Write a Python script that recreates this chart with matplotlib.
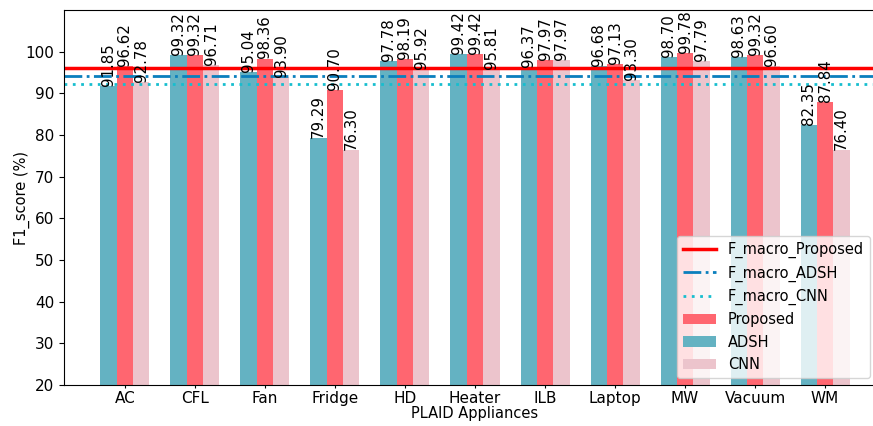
import matplotlib
matplotlib.use('Agg')
import matplotlib.pyplot as plt
import numpy as np

appliances = ['AC', 'CFL', 'Fan', 'Fridge', 'HD', 'Heater', 'ILB', 'Laptop', 'MW', 'Vacuum', 'WM']
proposed = [96.62, 99.32, 98.36, 90.70, 98.19, 99.42, 97.97, 97.13, 99.78, 99.32, 87.84]
adsh = [91.85, 99.32, 95.04, 79.29, 97.78, 99.42, 96.37, 96.68, 98.70, 98.63, 82.35]
cnn = [92.78, 96.71, 93.90, 76.30, 95.92, 95.81, 97.97, 93.30, 97.79, 96.60, 76.40]
f_macro_proposed = 96.2
f_macro_adsh = 94.13
f_macro_cnn = 92.13

fig = plt.figure(figsize=(8.73, 4.26), dpi=100)
ax = fig.add_axes([64/873, 1-385/426, 822/873, 375/426])

x = np.arange(len(appliances))
w = 0.7/3
fs = 11
b_adsh = ax.bar(x-w, adsh, w, color='#64b2c2', label='ADSH')
b_prop = ax.bar(x, proposed, w, color='#ff6670', label='Proposed')
b_cnn = ax.bar(x+w, cnn, w, color='#ecc4cc', label='CNN')

for bars, vals in ((b_adsh, adsh), (b_prop, proposed), (b_cnn, cnn)):
    for b, v in zip(bars, vals):
        ax.text(b.get_x()+b.get_width()/2, v, '%.2f' % v, rotation=90,
                ha='center', va='bottom', fontsize=10.8)

l1 = ax.axhline(f_macro_proposed, color='#ff0000', lw=2.5, label='F_macro_Proposed')
l2 = ax.axhline(f_macro_adsh, color='#0a7fbd', lw=2, ls='-.', label='F_macro_ADSH')
l3 = ax.axhline(f_macro_cnn, color='#17becf', lw=2, ls=(0, (1, 2)), label='F_macro_CNN')

ax.set_xlim(-0.87, len(appliances)-1+0.87)
ax.set_ylim(20, 110)
ax.set_yticks(range(20, 101, 10))
ax.set_xticks(x)
ax.set_xticklabels(appliances)
ax.tick_params(axis='x', length=2.5, labelsize=fs, pad=2)
ax.tick_params(axis='y', labelsize=fs)
ax.spines['right'].set_visible(False)
ax.set_xlabel('PLAID Appliances', fontsize=10.5, labelpad=0)
ax.set_ylabel('F1_score (%)', fontsize=10.5)
ax.yaxis.set_label_coords(-0.041, 0.5)

ax.legend(handles=[l1, l2, l3, b_prop, b_adsh, b_cnn], loc='lower right',
          bbox_to_anchor=(1-9/822, 0.0), fontsize=10.5, handlelength=2.3)

fig.savefig('out.png', dpi=100)
